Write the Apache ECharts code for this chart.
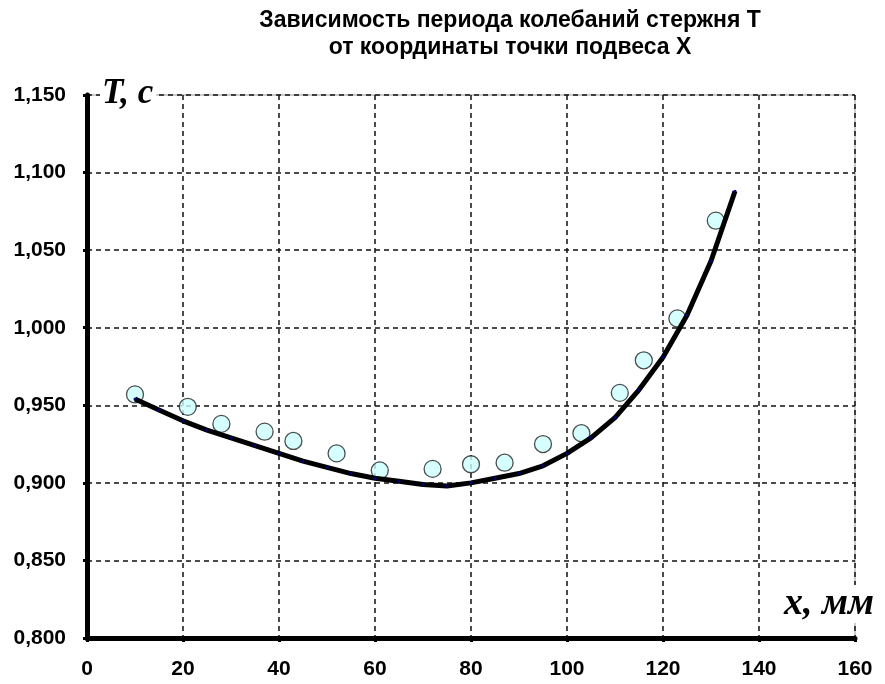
<!DOCTYPE html>
<html>
<head>
<meta charset="utf-8">
<script src="https://cdn.jsdelivr.net/npm/echarts@6/dist/echarts.min.js"></script>
<style>
html,body{margin:0;padding:0;background:#fff;}
#chart{width:885px;height:684px;}
</style>
</head>
<body>
<div id="chart"></div>
<script>
// Measured points: x (mm), T (s)
const measX = [10, 21, 28, 37, 43, 52, 61, 72, 80, 87, 95, 103, 111, 116, 123, 131];
const measT = [0.957, 0.949, 0.938, 0.933, 0.927, 0.919, 0.908, 0.909, 0.912, 0.913, 0.925, 0.932, 0.958, 0.979, 1.006, 1.069];

// Trend line points
const fitX = [10, 15, 20, 25, 30, 35, 40, 45, 50, 55, 60, 65, 70, 75, 80, 85, 90, 95, 100, 105, 110, 115, 120, 125, 130, 135];
const fitT = [0.954, 0.947, 0.940, 0.934, 0.929, 0.924, 0.919, 0.914, 0.910, 0.906, 0.903, 0.901, 0.899, 0.898, 0.900, 0.903, 0.906, 0.911, 0.919, 0.929, 0.942, 0.960, 0.981, 1.008, 1.043, 1.088];

const xTickLabels = ['0', '20', '40', '60', '80', '100', '120', '140', '160'];
const yTickLabels = ['0,800', '0,850', '0,900', '0,950', '1,000', '1,050', '1,100', '1,150'];

const titleText = 'Зависимость периода колебаний стержня Т\nот координаты точки подвеса Х';
const yName = 'T, c';
const xName = 'x, мм';

const chart = echarts.init(document.getElementById('chart'), null, {renderer: 'canvas'});

const labelFont = {fontFamily: '"Liberation Sans", Arial, sans-serif', fontWeight: 'bold', fontSize: 21, color: '#000'};

chart.setOption({
  animation: false,
  backgroundColor: '#fff',
  title: {
    text: titleText,
    left: 505,
    top: 2,
    textAlign: 'center',
    textStyle: {fontFamily: '"Liberation Sans", Arial, sans-serif', fontWeight: 'bold', fontSize: 23, lineHeight: 27, color: '#000'}
  },
  grid: {left: 87, right: 30, top: 95, bottom: 46, show: true, borderColor: '#999', borderWidth: 1, containLabel: false},
  xAxis: {
    type: 'value', min: 0, max: 160, interval: 20,
    axisLine: {show: true, onZero: false, lineStyle: {color: '#000', width: 5}},
    axisTick: {show: true, length: 4, inside: false, lineStyle: {color: '#000', width: 3}},
    axisLabel: Object.assign({margin: 21, formatter: (v) => xTickLabels[Math.round(v / 20)]}, labelFont),
    splitLine: {show: true, lineStyle: {color: '#111', width: 1.5, type: [5, 4]}}
  },
  yAxis: {
    type: 'value', min: 0.8, max: 1.15, interval: 0.05,
    axisLine: {show: true, onZero: false, lineStyle: {color: '#000', width: 5}},
    axisTick: {show: true, length: 4, lineStyle: {color: '#000', width: 3}},
    axisLabel: Object.assign({margin: 21, formatter: (v) => yTickLabels[Math.round((v - 0.8) / 0.05)]}, labelFont),
    splitLine: {show: true, lineStyle: {color: '#111', width: 1.5, type: [5, 4]}}
  },
  graphic: [
    {type: 'text', left: 100, top: 76, z: 100,
     style: {text: yName, font: 'italic bold 35px "Liberation Serif", "Times New Roman", serif', fill: '#000', backgroundColor: '#fff', padding: [0, 3, 0, 2]}},
    {type: 'text', left: 782, top: 585, z: 100,
     style: {text: xName, font: 'italic bold 38px "Liberation Serif", "Times New Roman", serif', fill: '#000', backgroundColor: '#fff', padding: [0, 2, 0, 2]}}
  ],
  series: [
    {
      type: 'scatter',
      data: measX.map((x, i) => [x, measT[i]]),
      symbol: 'circle', symbolSize: 17,
      itemStyle: {color: '#ccffff', borderColor: '#222', borderWidth: 1.3},
      z: 2
    },
    {
      type: 'line',
      data: fitX.map((x, i) => [x, fitT[i]]),
      showSymbol: true, symbol: 'circle', symbolSize: 3,
      itemStyle: {color: '#000080', borderWidth: 0},
      lineStyle: {color: '#000', width: 5},
      z: 3
    }
  ]
});
</script>
</body>
</html>
